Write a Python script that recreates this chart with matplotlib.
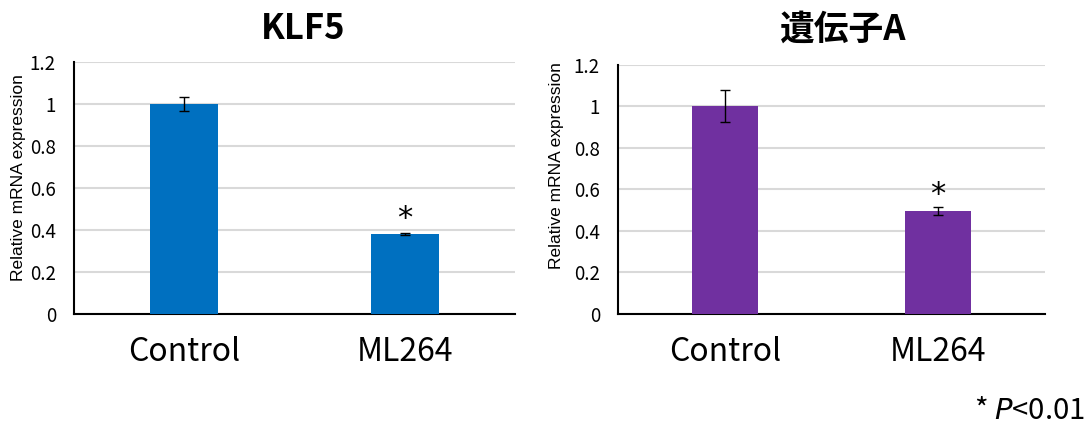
import matplotlib
matplotlib.use("Agg")
import matplotlib.pyplot as plt

plt.rcParams["font.family"] = ["Noto Sans CJK JP", "DejaVu Sans"]

# data
categories = ["Control", "ML264"]
klf5_values = [1.0, 0.38]
klf5_errors = [0.033, 0.003]
geneA_values = [1.0, 0.495]
geneA_errors = [0.077, 0.019]
star_klf5 = 0.455
star_geneA = 0.575
yticks = [0, 0.2, 0.4, 0.6, 0.8, 1.0, 1.2]
ytick_labels = ["0", "0.2", "0.4", "0.6", "0.8", "1", "1.2"]

fig = plt.figure(figsize=(10.89, 4.26), dpi=100)
ax1 = fig.add_axes([0.068, 0.263, 0.405, 0.592])
ax2 = fig.add_axes([0.5675, 0.263, 0.392, 0.585])


def draw(ax, values, errors, color, star_y, label_xy):
    x = list(range(len(categories)))
    ax.bar(x, values, width=0.31, color=color, zorder=3)
    ax.errorbar(x, values, yerr=errors, fmt="none", ecolor="black",
                elinewidth=1, capsize=3.5, capthick=1, zorder=4)
    ax.text(1, star_y, "*", ha="center", va="center", fontsize=22,
            family=["DejaVu Sans"], zorder=5)
    ax.set_xlim(-0.5, 1.5)
    ax.set_ylim(0, 1.2)
    ax.set_yticks(yticks)
    ax.set_yticklabels(ytick_labels, fontsize=13.5)
    ax.set_xticks(x)
    ax.set_xticklabels(categories, fontsize=23)
    ax.tick_params(length=0)
    ax.tick_params(axis="y", pad=13)
    ax.tick_params(axis="x", pad=16)
    ax.grid(axis="y", color="#d9d9d9", linewidth=1.5, zorder=0)
    ax.spines["top"].set_visible(False)
    ax.spines["right"].set_visible(False)
    ax.spines["left"].set_linewidth(1.5)
    ax.spines["bottom"].set_linewidth(1.5)
    ax.set_ylabel("Relative mRNA expression", fontsize=12.5,
                  family=["Liberation Sans"])
    ax.yaxis.set_label_coords(*label_xy)


draw(ax1, klf5_values, klf5_errors, "#0070c0", star_klf5, (-0.109, 0.54))
draw(ax2, geneA_values, geneA_errors, "#7030a0", star_geneA, (-0.126, 0.594))

fig.text(0.278, 0.932, "KLF5", ha="center", va="center", fontsize=25, fontweight="bold")
fig.text(0.774, 0.932, "遺伝子A", ha="center", va="center", fontsize=25, fontweight="bold")

fig.text(0.996, 0.035, "* $\\mathit{P}$<0.01", ha="right", va="center", fontsize=21)

fig.savefig("out.png", dpi=100)
